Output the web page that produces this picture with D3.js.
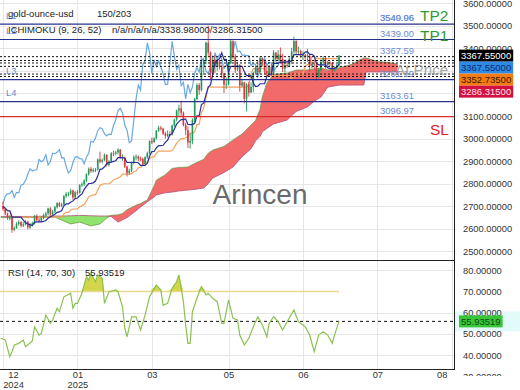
<!DOCTYPE html>
<html><head><meta charset="utf-8">
<script src="https://cdn.jsdelivr.net/npm/d3@7"></script>
<style>body{margin:0;background:#fff}svg{display:block}text{font-family:"Liberation Sans",Arial,sans-serif}</style>
</head><body><svg id="c" width="520" height="390"></svg>
<script>
// ---------- DATA ----------
const firstOpen = 2700;
const closes = [
2688,2668,2648,2650,2596,2604,2622,2630,2614,2620,
2632,2606,2618,2624,2656,2640,2636,2648,2660,2668,
2690,2664,2676,2696,2714,2702,2708,2745,2755,2756,
2770,2740,2762,2760,2794,2798,2814,2842,2866,2856,
2861,2862,2908,2898,2905,2928,2883,2898,2935,2933,
2939,2951,2915,2916,2876,2848,2858,2893,2918,2920,
2911,2910,2889,2917,2935,2989,2984,3001,3035,3048,
3044,3022,3012,3020,3019,3058,3084,3124,3134,3114,
3060,3037,2982,2990,3082,3175,3237,3215,3330,3345,
3424,3381,3288,3349,3319,3344,3317,3288,3239,3241,
3334,3431,3365,3306,3325,3235,3249,3176,3240,3203,
3229,3290,3314,3295,3357,3342,3300,3288,3318,3289,
3381,3352,3373,3352,3310,3326,3322,3354,3386,3432,
3385,3388,3370,3370,3368,3368,3323,3332,3328,3274,
3303,3338,3357,3326,3337,3336,3301,3313,3324,3367.55];
const highs = [
2722,2694,2672,2660,2655,2612,2630,2638,2634,2630,
2640,2636,2626,2632,2662,2664,2648,2656,2668,2676,
2694,2696,2684,2702,2718,2720,2716,2750,2763,2764,
2778,2774,2768,2772,2798,2806,2820,2846,2872,2874,
2870,2870,2912,2942,2912,2934,2930,2904,2940,2946,
2946,2956,2954,2930,2920,2880,2866,2898,2926,2930,
2926,2920,2916,2922,2942,2992,3004,3006,3038,3057,
3056,3048,3030,3036,3032,3062,3088,3128,3150,3168,
3120,3070,3054,3022,3090,3180,3245,3246,3345,3358,
3430,3500,3386,3368,3370,3352,3350,3328,3292,3270,
3340,3438,3436,3374,3340,3330,3265,3252,3246,3252,
3250,3296,3322,3345,3366,3360,3348,3326,3326,3330,
3392,3384,3392,3404,3376,3350,3346,3360,3402,3452,
3436,3408,3394,3387,3376,3398,3370,3342,3350,3334,
3310,3350,3365,3366,3344,3342,3338,3320,3330,3370];
const lows = [
2680,2660,2640,2638,2583,2590,2600,2614,2606,2608,
2615,2598,2600,2612,2620,2634,2628,2630,2642,2654,
2662,2658,2658,2670,2690,2696,2696,2704,2738,2744,
2750,2730,2734,2750,2756,2786,2790,2808,2836,2848,
2850,2852,2858,2890,2890,2900,2876,2876,2892,2922,
2926,2930,2910,2902,2870,2832,2840,2852,2886,2904,
2900,2900,2880,2884,2910,2930,2976,2980,2996,3030,
3036,3016,3000,3006,3010,3014,3052,3076,3100,3100,
3054,3015,2958,2956,2975,3072,3170,3194,3208,3282,
3330,3367,3260,3284,3290,3300,3306,3268,3202,3220,
3236,3330,3352,3290,3300,3208,3228,3156,3120,3186,
3206,3205,3283,3286,3287,3320,3285,3274,3282,3276,
3286,3340,3344,3340,3294,3292,3314,3318,3330,3376,
3372,3375,3358,3348,3350,3340,3295,3310,3306,3256,
3268,3296,3328,3310,3318,3322,3290,3296,3306,3316];

// Ichimoku cloud spans (bar index, span A, span B)
const cloudBars = [-1,12,23,26,30,34,39,43,46,48,51,53,55,59,61,64,67,68,72,75,78,82,85,89,91,93,98,102,106,110,112,114,115,117,120,126,130,135,138,141,144,149,155,158,160,161,164,167,170,175];
const spanA = [2650,2650,2652,2639,2622,2630,2613,2622,2648,2660,2662,2668,2685,2705,2712,2728,2790,2816,2840,2868,2872,2874,2890,2908,2935,2949,2965,2994,3020,3060,3080,3130,3184,3246,3285,3290,3304,3304,3308,3313,3304,3313,3330,3348,3357,3357,3348,3340,3339,3330];
const spanB = [2655,2655,2657,2657,2658,2660,2658,2657,2657,2655,2630,2640,2650,2680,2697,2720,2741,2750,2760,2763,2768,2772,2775,2781,2800,2825,2850,2874,2920,2955,2990,3010,3030,3045,3065,3082,3120,3140,3165,3184,3228,3237,3237,3237,3237,3295,3295,3295,3295,3295];

const rsiBars = [-1,1,3,4,5,7,9,10,13,14,16,17,19,21,22,24,25,27,30,31,32,33,35,37,38,39,41,42,44,45,47,50,51,53,54,55,57,59,61,63,65,68,70,71,73,75,77,78,80,81,82,83,84,86,88,90,91,93,95,97,98,100,102,104,105,107,109,111,113,115,117,118,120,122,124,126,129,131,134,136,138,140,142,144,146,147,149];
const rsiValues = [48,47.2,39.3,41.7,44.8,45.6,47.2,44,46.7,53.4,49.5,50.3,58.9,55,56.6,62.1,60.5,67.5,69.2,62.1,64.4,64.4,69.2,77,75.4,78.6,74.6,77.8,76.2,64.4,69.9,70.7,69.9,62.8,52.7,48.7,58.1,58.1,51.9,58.9,67.5,73,70.7,63.6,64.4,71.5,74.6,77.8,65.2,54.2,45.6,45.6,60.5,66.8,72.3,68.4,69.2,66.8,65.2,55,55,66,57.4,56.6,49.5,44.8,48,53.4,58.1,54.2,48.7,55,58.1,55.8,51.9,55.8,61.3,55.8,53.4,49.5,41.7,49.5,51.1,49.5,45.6,49.5,55.93519];
const rsiLast = 55.93519;
const rsiOverbought = 70;

const gridPrices = [2500,2600,2700,2800,2900,3000,3100,3200,3300,3400,3500,3600];
const priceTicks = [2500,2600,2700,2800,2900,3000,3100,3400,3500,3600];
const rsiTicks = [30,40,50,60,70,80];
const timeTickBars = [0,33,66,100,133,166,199];
const timeTickLabels = [["12","2024"],["01","2025"],["03"],["05"],["06"],["07"],["08"]];

const levelValues = [3507, 3439, 3261.19, 3163.61];
const levelTexts = ["3540.06", "3439.00", "3261.19", "3163.61"];
const levelNames = ["L1", "L2", "L3", "L4"];
const overlapText = "3549.96";
const slValue = 3096.97, slText = "3096.97";
const dottedLevels = [3363, 3346, 3335, 3320, 3286, 3275];
const dottedText = "3367.59";
const tagValues = [3367.55, 3367.55, 3352.735, 3286.315];
const tagTexts = ["3367.55000", "3367.55000", "3352.73500", "3286.31500"];
const tagFills = ["#000000", "#2f8ae6", "#f47c12", "#d0103f"];
const tagInk = ["#ffffff", "#0d2a6b", "#3a1600", "#ffe0e8"];

// ---------- CHART ----------
const svg = d3.select("#c");
const W = 454;
const x = d3.scaleLinear().domain([0,149]).range([3,339]);
const y = d3.scaleLinear().domain([2471,3614]).range([258,0]);
const yr = d3.scaleLinear().domain([33.06,84.82]).range([370,260]);
const FONT = '"Liberation Sans",Arial,sans-serif';

svg.append("rect").attr("width",520).attr("height",390).attr("fill","#fff");
const defs = svg.append("defs");
defs.append("clipPath").attr("id","cm").append("rect").attr("x",0).attr("y",0).attr("width",W).attr("height",259);
defs.append("clipPath").attr("id","cr").append("rect").attr("x",0).attr("y",260).attr("width",W).attr("height",110);
defs.append("clipPath").attr("id","cra").append("rect").attr("x",455).attr("y",259).attr("width",65).attr("height",117);

// grid
const grid = svg.append("g").attr("stroke","#e6e6e6").attr("stroke-width",1);
timeTickBars.forEach(b=>grid.append("line").attr("x1",Math.round(x(b))+0.5).attr("x2",Math.round(x(b))+0.5).attr("y1",0).attr("y2",370));
gridPrices.forEach(p=>grid.append("line").attr("x1",0).attr("x2",W).attr("y1",Math.round(y(p))+0.5).attr("y2",Math.round(y(p))+0.5));
[40,50,60,80].forEach(v=>grid.append("line").attr("x1",0).attr("x2",W).attr("y1",Math.round(yr(v))+0.5).attr("y2",Math.round(yr(v))+0.5));

// main panel
const main = svg.append("g").attr("clip-path","url(#cm)");
const cloud = cloudBars.map((b,i)=>({b, a:spanA[i], s:spanB[i]}));
main.append("path").datum(cloud).attr("fill","#f26a6a").attr("d",
  d3.area().x(d=>x(d.b)).y0(d=>y(d.s)).y1(d=>y(Math.max(d.a,d.s))));
main.append("path").datum(cloud).attr("fill","#8fe46e").attr("d",
  d3.area().x(d=>x(d.b)).y0(d=>y(d.a)).y1(d=>y(Math.max(d.a,d.s))));
main.append("path").datum(cloud).attr("fill","none").attr("stroke","#6f9a4a").attr("stroke-width",0.8)
  .attr("d",d3.line().x(d=>x(d.b)).y(d=>y(d.a)));
main.append("path").datum(cloud).attr("fill","none").attr("stroke","#b4507a").attr("stroke-width",0.8)
  .attr("d",d3.line().x(d=>x(d.b)).y(d=>y(d.s)));

// ichimoku lines from price data
const opens = closes.map((c,i)=> i===0 ? firstOpen : closes[i-1]);
function midline(n){ return closes.map((_,i)=>{ const s=Math.max(0,i-n+1); return (d3.max(highs.slice(s,i+1))+d3.min(lows.slice(s,i+1)))/2; }); }
const tenkan = midline(9), kijun = midline(26);
const idx = d3.range(closes.length);
main.append("path").datum(idx).attr("fill","none").attr("stroke","#f4a261").attr("stroke-width",1.2)
  .attr("d",d3.line().x(i=>x(i)).y(i=>y(kijun[i])));
// chikou = close plotted 26 bars back
main.append("path").datum(idx.filter(i=>i>=26)).attr("fill","none").attr("stroke","#6aa9e4").attr("stroke-width",1.2)
  .attr("d",d3.line().x(i=>x(i-26)).y(i=>y(closes[i])));

// candles
const cg = main.append("g");
idx.forEach(i=>{
  const up = closes[i] >= opens[i];
  const col = up ? "#1f9a5a" : "#e0363c";
  const cx = x(i);
  cg.append("line").attr("x1",cx).attr("x2",cx).attr("y1",y(highs[i])).attr("y2",y(lows[i])).attr("stroke",col).attr("stroke-width",0.9);
  const top = y(Math.max(opens[i],closes[i])), bot = y(Math.min(opens[i],closes[i]));
  cg.append("rect").attr("x",cx-0.8).attr("width",1.6).attr("y",top).attr("height",Math.max(1,bot-top)).attr("fill",col);
});
main.append("path").datum(idx).attr("fill","none").attr("stroke","#2a2f9a").attr("stroke-width",1.2)
  .attr("d",d3.line().x(i=>x(i)).y(i=>y(tenkan[i])));

// level lines
dottedLevels.forEach(v=>main.append("line").attr("x1",0).attr("x2",W).attr("y1",y(v)).attr("y2",y(v))
  .attr("stroke","#111").attr("stroke-width",1).attr("stroke-dasharray","2,2"));
levelValues.forEach(v=>main.append("line").attr("x1",0).attr("x2",W).attr("y1",y(v)).attr("y2",y(v))
  .attr("stroke","#27318b").attr("stroke-width",1.2));
main.append("line").attr("x1",0).attr("x2",W).attr("y1",y(slValue)).attr("y2",y(slValue)).attr("stroke","#d62c2c").attr("stroke-width",1.2);

const lab = svg.append("g").attr("font-family",FONT).attr("font-size",9.4).attr("fill","#6a8bd6");
levelValues.forEach((v,i)=>{
  lab.append("text").attr("x",380).attr("y",y(v)-3).text(levelTexts[i]);
  lab.append("text").attr("x",6).attr("y",y(v)-5.5).text(levelNames[i]);
});
lab.append("text").attr("x",380).attr("y",y(levelValues[0])-3).text(overlapText);
lab.append("text").attr("x",380).attr("y",y(dottedLevels[0])-3).text(dottedText);
lab.append("text").attr("x",380).attr("y",y(slValue)-3).text(slText);

// big annotations
svg.append("text").attr("x",395).attr("y",75).attr("font-family",FONT).attr("font-size",15.2).attr("fill","#999").attr("opacity",0.85).text("At Price");
svg.append("text").attr("x",420).attr("y",y(levelValues[0])-3).attr("font-family",FONT).attr("font-size",15.5).attr("fill","#2e9a35").text("TP2");
svg.append("text").attr("x",420).attr("y",y(levelValues[1])+1.5).attr("font-family",FONT).attr("font-size",15.5).attr("fill","#2e9a35").text("TP1");
svg.append("text").attr("x",430).attr("y",y(slValue)+18).attr("font-family",FONT).attr("font-size",15.5).attr("fill","#e02424").text("SL");
svg.append("text").attr("x",260).attr("y",204).attr("text-anchor","middle").attr("font-family",FONT).attr("font-size",28).attr("fill","#6a6a6a").text("Arincen");

// header text
const hd = svg.append("g").attr("font-family",FONT).attr("font-size",9.5).attr("fill","#222");
hd.append("text").attr("x",8).attr("y",17).text("gold-ounce-usd");
hd.append("text").attr("x",97).attr("y",17).text("150/203");
hd.append("text").attr("x",8).attr("y",33).text("ICHIMOKU (9, 26, 52)");
hd.append("text").attr("x",112).attr("y",33).text("n/a/n/a/n/a/3338.98000/3286.31500");

// RSI panel
const rp = svg.append("g").attr("clip-path","url(#cr)");
const rsiPts = rsiBars.map((b,i)=>({b, v:rsiValues[i]}));
rp.append("path").datum(rsiPts).attr("fill","#d3d64a").attr("d",
  d3.area().x(d=>x(d.b)).y0(yr(rsiOverbought)).y1(d=>yr(Math.max(d.v,rsiOverbought))));
rp.append("line").attr("x1",0).attr("x2",x(149)).attr("y1",yr(rsiOverbought)).attr("y2",yr(rsiOverbought))
  .attr("stroke","#e9d98e").attr("stroke-width",1.6);
rp.append("line").attr("x1",0).attr("x2",W).attr("y1",yr(rsiLast)).attr("y2",yr(rsiLast))
  .attr("stroke","#111").attr("stroke-width",1).attr("stroke-dasharray","3,3");
rp.append("path").datum(rsiPts).attr("fill","none").attr("stroke","#8cc152").attr("stroke-width",1.2)
  .attr("d",d3.line().x(d=>x(d.b)).y(d=>yr(d.v)));
svg.append("text").attr("x",8).attr("y",276).attr("font-family",FONT).attr("font-size",9.5).attr("fill","#222").text("RSI (14, 70, 30)");
svg.append("text").attr("x",85).attr("y",276).attr("font-family",FONT).attr("font-size",9.5).attr("fill","#222").text(rsiLast.toFixed(5));

// borders
const bd = svg.append("g").attr("stroke","#222").attr("stroke-width",1);
bd.append("line").attr("x1",0).attr("x2",W).attr("y1",260.5).attr("y2",260.5);
bd.append("line").attr("x1",0).attr("x2",W).attr("y1",369.5).attr("y2",369.5);
bd.append("line").attr("x1",W+0.5).attr("x2",W+0.5).attr("y1",0).attr("y2",370);

// axes
const ya = svg.append("g").attr("transform","translate(459,0)")
  .call(d3.axisRight(y).tickValues(priceTicks).tickSize(0).tickPadding(4).tickFormat(d3.format(".5f")));
ya.select(".domain").remove();
ya.selectAll("text").attr("font-family",FONT).attr("font-size",9.3).attr("fill","#333");

// RSI tag background band
svg.append("rect").attr("x",455).attr("y",yr(rsiLast)-10).attr("width",65).attr("height",20).attr("fill","#e2fafa");

const yra = svg.append("g").attr("clip-path","url(#cra)").append("g").attr("transform","translate(459,0)")
  .call(d3.axisRight(yr).tickValues(rsiTicks).tickSize(0).tickPadding(4).tickFormat(d3.format(".5f")));
yra.select(".domain").remove();
yra.selectAll("text").attr("font-family",FONT).attr("font-size",9.3).attr("fill","#333");

const xa = svg.append("g").attr("transform","translate(0,370)")
  .call(d3.axisBottom(x).tickValues(timeTickBars).tickSize(0).tickPadding(1.5));
xa.select(".domain").remove();
xa.selectAll("text").each(function(d,i){
  const t = d3.select(this).text(null).attr("font-family",FONT).attr("font-size",9.3).attr("fill","#333");
  timeTickLabels[i].forEach((s,k)=>t.append("tspan").attr("x",0).attr("dy",k?"1.1em":"0.71em").text(s));
});
xa.selectAll(".tick").filter((d,i)=>i===0).select("text").attr("transform","translate(10,0)");
xa.selectAll(".tick").filter((d,i)=>i===timeTickBars.length-1).select("text").attr("transform","translate(-10,0)");

// price tags (stacked)
let prev = -100;
tagValues.forEach((v,i)=>{
  const cy = Math.max(y(v), prev + 12); prev = cy;
  const g = svg.append("g");
  const r = g.append("rect").attr("x",459).attr("y",cy-6).attr("height",12).attr("fill",tagFills[i]);
  const t = g.append("text").attr("x",461).attr("y",cy+3.3).attr("font-family",FONT).attr("font-size",9.5).attr("fill",tagInk[i]).text(tagTexts[i]);
  r.attr("width",t.node().getComputedTextLength()+4);
});
// RSI tag
const rg = svg.append("g");
const rr = rg.append("rect").attr("x",459).attr("y",yr(rsiLast)-6).attr("height",12).attr("fill","#3ac43a");
const rt = rg.append("text").attr("x",461).attr("y",yr(rsiLast)+3.3).attr("font-family",FONT).attr("font-size",9.5).attr("fill","#0f4f0f").text(rsiLast.toFixed(5));
rr.attr("width",rt.node().getComputedTextLength()+4);
</script></body></html>
